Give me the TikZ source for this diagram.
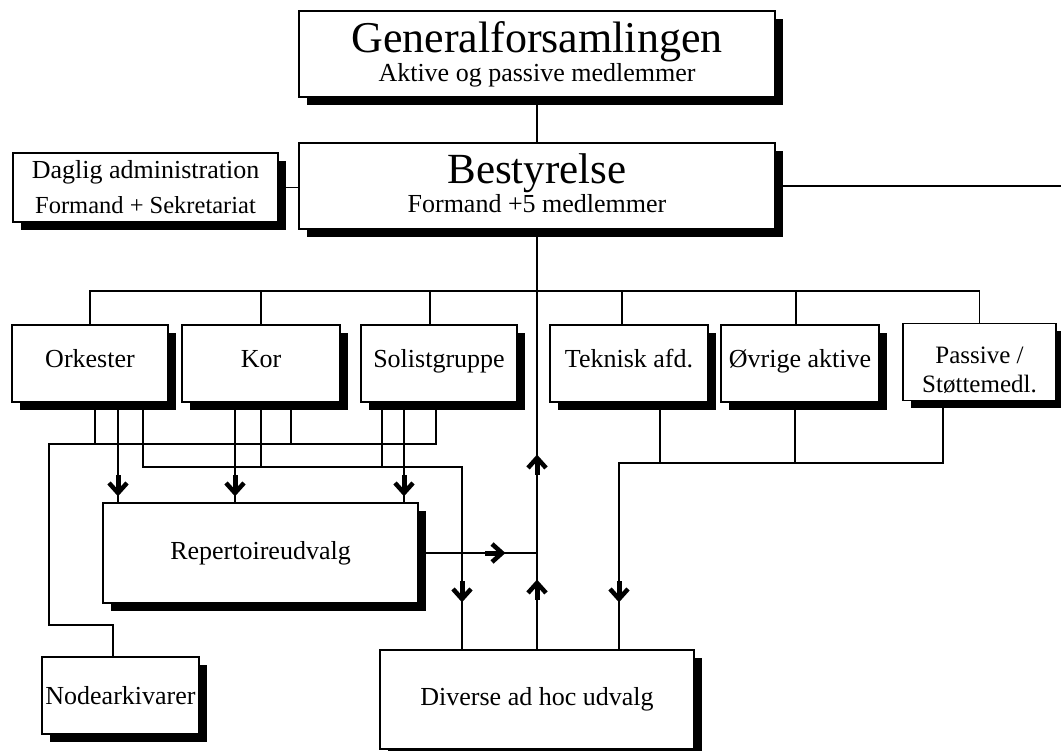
\documentclass[tikz,border=0pt]{standalone}
\usepackage{fontspec}
\setmainfont{Liberation Serif}
\usetikzlibrary{shadows}
\usetikzlibrary{decorations.markings}

\tikzset{
  orgbox/.style={draw, fill=white, line width=1.1pt, inner sep=2pt, align=center,
    font=\fontsize{26}{29}\selectfont,
    drop shadow={shadow xshift=8pt, shadow yshift=-8pt, fill=black, opacity=1}},
  rowbox/.style={orgbox, minimum width=156pt, minimum height=77pt},
  oneline/.style={text height=18pt, text depth=10pt},
  wire/.style={line width=1.6pt},
  tipat/.style={postaction={decorate, decoration={markings,
      mark=at position #1 with {
        \fill (-21pt,-2.5pt) rectangle (-5pt,2.5pt);
        \draw[line width=4.5pt, miter limit=10] (-13.5pt,9pt) -- (-3.5pt,0pt) -- (-13.5pt,-9pt);}}}},
}

\begin{document}
\begin{tikzpicture}[x=1pt, y=-1pt]
    \useasboundingbox (0,0) rectangle (1061,751);

    \node[orgbox, minimum width=476pt, minimum height=86pt] (GF) at (537, 54)
      {\fontsize{44}{29}\selectfont Generalforsamlingen\\\fontsize{26}{29}\selectfont Aktive og passive medlemmer};
    \node[orgbox, minimum width=476pt, minimum height=86pt] (BS) at (537, 186)
      {\fontsize{43}{29}\selectfont Bestyrelse\\\fontsize{26}{29}\selectfont Formand +5 medlemmer\rule[-6pt]{0pt}{0pt}};
    \node[orgbox, minimum width=265pt, minimum height=69pt] (DA) at (145.5, 187.5)
      {\fontsize{26}{35}\selectfont Daglig administration\\[6pt]\fontsize{24.5}{35}\selectfont Formand + Sekretariat};

    \node[rowbox, oneline] (Ork) at (90, 363.5) {Orkester};
    \node[rowbox, oneline, minimum width=158pt] (Kor) at (261, 363.5) {Kor};
    \node[rowbox, oneline] (Sol) at (439, 363.5) {Solistgruppe};
    \node[rowbox, oneline, minimum width=158pt] (Tek) at (629, 363.5) {Teknisk afd.};
    \node[rowbox, oneline, minimum width=158pt] (Ovr) at (800, 363.5) {Øvrige aktive};
    \node[rowbox, minimum width=153pt, font=\fontsize{25}{29}\selectfont] (Pas) at (979.5, 362) {\rule{0pt}{33pt}Passive /\\Støttemedl.};

    \node[orgbox, minimum width=315pt, minimum height=100pt] (Rep) at (260.5, 553) {Repertoireudvalg};
    \node[orgbox, minimum width=157pt, minimum height=77pt] (Nod) at (120.5, 695.5) {Nodearkivarer};
    \node[orgbox, minimum width=314pt, minimum height=99pt] (Div) at (537, 699.5) {Diverse ad hoc udvalg};

    \coordinate (rim) at (1061, 186);

    \draw[wire] (GF) -- (BS);
    \draw[wire] (DA.east) -- (DA.east -| BS.west);
    \draw[wire] (BS.east) -- (rim);
    \draw[wire, tipat=70pt, tipat=195pt] (Div) -- (BS);

    \draw[wire] (Ork) |- (Pas.north |- 0,291) -- (Pas);
    \draw[wire] (Kor) -- (Kor |- 0,291);
    \draw[wire] (Sol.north -| 430,0) -- (430,291);
    \draw[wire] (Tek.north -| 622,0) -- (622,291);
    \draw[wire] (Ovr.north -| 796,0) -- (796,291);

    \draw[wire] (Ork.south -| 95,0) |- (49,444) |- (113,625) -- (Nod.north -| 113,0);
    \draw[wire] (Kor.south -| 291,0) -- (291,444);
    \draw[wire] (Sol.south -| 436,0) |- (95,444);

    \draw[wire, tipat=-47pt] (Ork.south -| 143,0) |- (462,467) -- (Div.north -| 462,0);
    \draw[wire] (Kor.south) -- (Kor.south |- 0,467);
    \draw[wire] (Sol.south -| 382,0) -- (382,467);

    \draw[wire, tipat=-6pt] (Ork.south -| 118,0) -- (Rep.north -| 118,0);
    \draw[wire, tipat=-6pt] (Kor.south -| 235,0) -- (Rep.north -| 235,0);
    \draw[wire, tipat=-6pt] (Sol.south -| 404,0) -- (Rep.north -| 404,0);
    \draw[wire, tipat=87pt] (Rep) -- (Rep -| BS);

    \draw[wire, tipat=-47pt] (Tek.south -| 660,0) |- (619,463) -- (Div.north -| 619,0);
    \draw[wire] (Ovr.south -| 795,0) -- (795,463);
    \draw[wire] (Pas.south -| 943,0) |- (660,463);
  \end{tikzpicture}
\end{document}
